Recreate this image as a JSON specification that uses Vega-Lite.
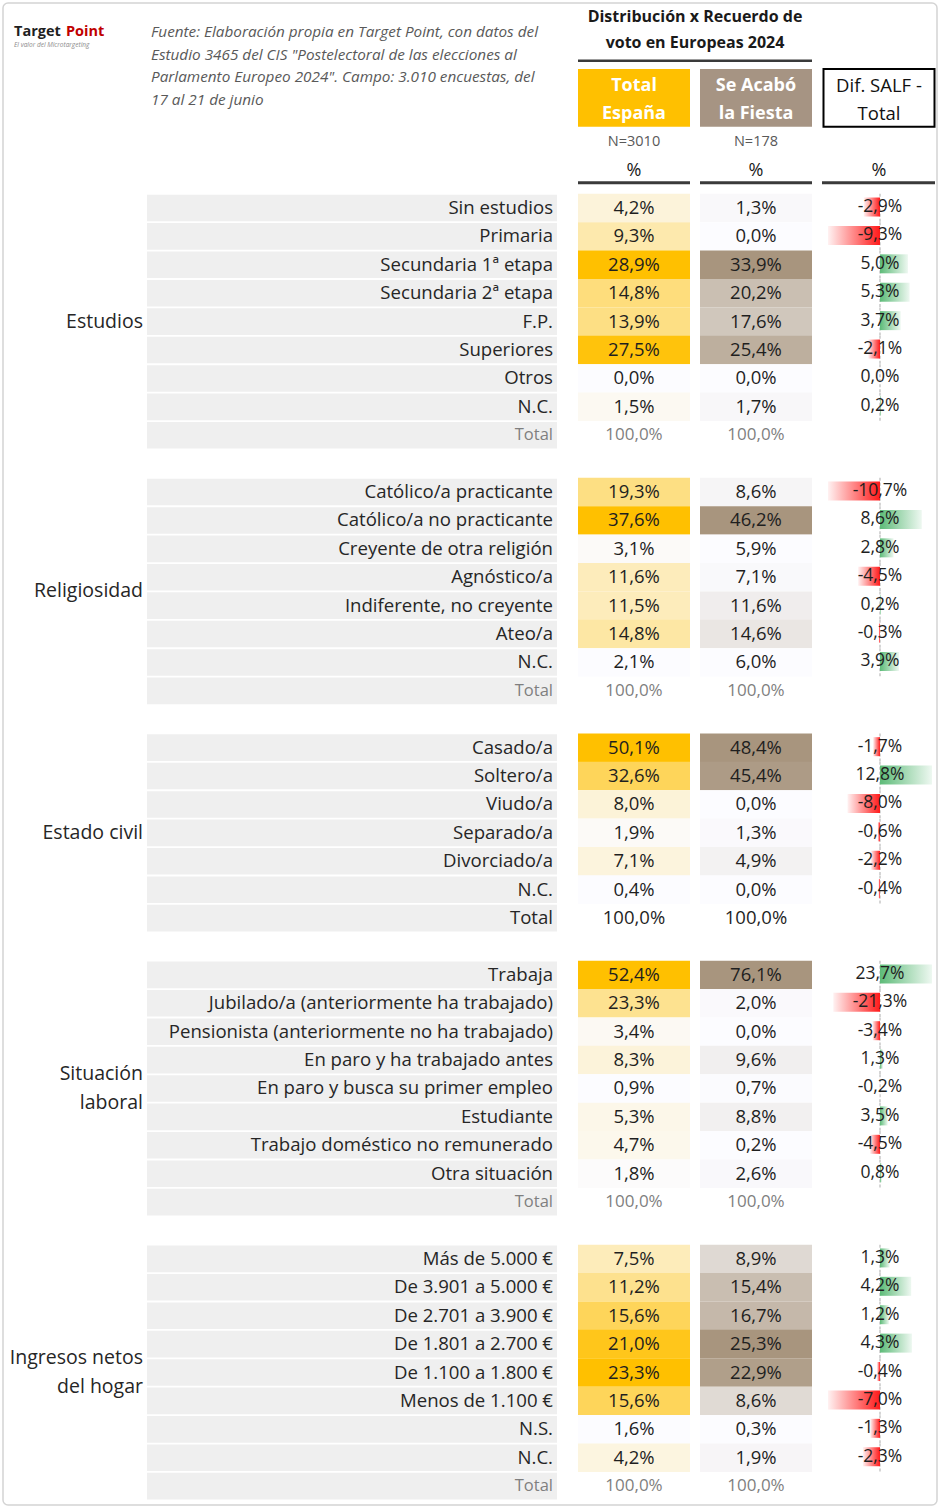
{
  "$schema": "https://vega.github.io/schema/vega-lite/v6.json",
  "width": 940,
  "height": 1508,
  "padding": 0,
  "autosize": {"type": "none"},
  "background": "#FFFFFF",
  "config": {"view": {"stroke": null}, "font": "Open Sans", "text": {"font": "Open Sans"}},
  "data": {"values": [
    {"sec": "Estudios", "row": 0, "label": "Sin estudios", "total": 4.2, "salf": 1.3, "dif": -2.9},
    {"sec": "Estudios", "row": 1, "label": "Primaria", "total": 9.3, "salf": 0.0, "dif": -9.3},
    {"sec": "Estudios", "row": 2, "label": "Secundaria 1ª etapa", "total": 28.9, "salf": 33.9, "dif": 5.0},
    {"sec": "Estudios", "row": 3, "label": "Secundaria 2ª etapa", "total": 14.8, "salf": 20.2, "dif": 5.3},
    {"sec": "Estudios", "row": 4, "label": "F.P.", "total": 13.9, "salf": 17.6, "dif": 3.7},
    {"sec": "Estudios", "row": 5, "label": "Superiores", "total": 27.5, "salf": 25.4, "dif": -2.1},
    {"sec": "Estudios", "row": 6, "label": "Otros", "total": 0.0, "salf": 0.0, "dif": 0.0},
    {"sec": "Estudios", "row": 7, "label": "N.C.", "total": 1.5, "salf": 1.7, "dif": 0.2},
    {"sec": "Estudios", "row": 8, "label": "Total", "total": 100.0, "salf": 100.0},
    {"sec": "Religiosidad", "row": 10, "label": "Católico/a practicante", "total": 19.3, "salf": 8.6, "dif": -10.7},
    {"sec": "Religiosidad", "row": 11, "label": "Católico/a no practicante", "total": 37.6, "salf": 46.2, "dif": 8.6},
    {"sec": "Religiosidad", "row": 12, "label": "Creyente de otra religión", "total": 3.1, "salf": 5.9, "dif": 2.8},
    {"sec": "Religiosidad", "row": 13, "label": "Agnóstico/a", "total": 11.6, "salf": 7.1, "dif": -4.5},
    {"sec": "Religiosidad", "row": 14, "label": "Indiferente, no creyente", "total": 11.5, "salf": 11.6, "dif": 0.2},
    {"sec": "Religiosidad", "row": 15, "label": "Ateo/a", "total": 14.8, "salf": 14.6, "dif": -0.3},
    {"sec": "Religiosidad", "row": 16, "label": "N.C.", "total": 2.1, "salf": 6.0, "dif": 3.9},
    {"sec": "Religiosidad", "row": 17, "label": "Total", "total": 100.0, "salf": 100.0},
    {"sec": "Estado civil", "row": 19, "label": "Casado/a", "total": 50.1, "salf": 48.4, "dif": -1.7},
    {"sec": "Estado civil", "row": 20, "label": "Soltero/a", "total": 32.6, "salf": 45.4, "dif": 12.8},
    {"sec": "Estado civil", "row": 21, "label": "Viudo/a", "total": 8.0, "salf": 0.0, "dif": -8.0},
    {"sec": "Estado civil", "row": 22, "label": "Separado/a", "total": 1.9, "salf": 1.3, "dif": -0.6},
    {"sec": "Estado civil", "row": 23, "label": "Divorciado/a", "total": 7.1, "salf": 4.9, "dif": -2.2},
    {"sec": "Estado civil", "row": 24, "label": "N.C.", "total": 0.4, "salf": 0.0, "dif": -0.4},
    {"sec": "Estado civil", "row": 25, "label": "Total", "total": 100.0, "salf": 100.0},
    {"sec": "Situación laboral", "row": 27, "label": "Trabaja", "total": 52.4, "salf": 76.1, "dif": 23.7},
    {"sec": "Situación laboral", "row": 28, "label": "Jubilado/a (anteriormente ha trabajado)", "total": 23.3, "salf": 2.0, "dif": -21.3},
    {"sec": "Situación laboral", "row": 29, "label": "Pensionista (anteriormente no ha trabajado)", "total": 3.4, "salf": 0.0, "dif": -3.4},
    {"sec": "Situación laboral", "row": 30, "label": "En paro y ha trabajado antes", "total": 8.3, "salf": 9.6, "dif": 1.3},
    {"sec": "Situación laboral", "row": 31, "label": "En paro y busca su primer empleo", "total": 0.9, "salf": 0.7, "dif": -0.2},
    {"sec": "Situación laboral", "row": 32, "label": "Estudiante", "total": 5.3, "salf": 8.8, "dif": 3.5},
    {"sec": "Situación laboral", "row": 33, "label": "Trabajo doméstico no remunerado", "total": 4.7, "salf": 0.2, "dif": -4.5},
    {"sec": "Situación laboral", "row": 34, "label": "Otra situación", "total": 1.8, "salf": 2.6, "dif": 0.8},
    {"sec": "Situación laboral", "row": 35, "label": "Total", "total": 100.0, "salf": 100.0},
    {"sec": "Ingresos netos del hogar", "row": 37, "label": "Más de 5.000 €", "total": 7.5, "salf": 8.9, "dif": 1.3},
    {"sec": "Ingresos netos del hogar", "row": 38, "label": "De 3.901 a 5.000 €", "total": 11.2, "salf": 15.4, "dif": 4.2},
    {"sec": "Ingresos netos del hogar", "row": 39, "label": "De 2.701 a 3.900 €", "total": 15.6, "salf": 16.7, "dif": 1.2},
    {"sec": "Ingresos netos del hogar", "row": 40, "label": "De 1.801 a 2.700 €", "total": 21.0, "salf": 25.3, "dif": 4.3},
    {"sec": "Ingresos netos del hogar", "row": 41, "label": "De 1.100 a 1.800 €", "total": 23.3, "salf": 22.9, "dif": -0.4},
    {"sec": "Ingresos netos del hogar", "row": 42, "label": "Menos de 1.100 €", "total": 15.6, "salf": 8.6, "dif": -7.0},
    {"sec": "Ingresos netos del hogar", "row": 43, "label": "N.S.", "total": 1.6, "salf": 0.3, "dif": -1.3},
    {"sec": "Ingresos netos del hogar", "row": 44, "label": "N.C.", "total": 4.2, "salf": 1.9, "dif": -2.3},
    {"sec": "Ingresos netos del hogar", "row": 45, "label": "Total", "total": 100.0, "salf": 100.0}
  ]},
  "layer": [
    {
      "layer": [
        {
          "data": {"values": [{}]},
          "mark": {"type": "rect", "fillOpacity": 0, "stroke": "#D4D4D4", "strokeWidth": 1.5, "cornerRadius": 5},
          "encoding": {
            "x": {"datum": 3, "type": "quantitative", "scale": {"domain": [0, 940], "nice": false, "zero": false}, "axis": null},
            "x2": {"datum": 937},
            "y": {"datum": -7.218, "type": "quantitative", "scale": {"domain": [-7.324, 45.77], "reverse": true, "nice": false, "zero": false}, "axis": null},
            "y2": {"datum": 45.664}
          }
        },
        {
          "data": {"values": [{}]},
          "mark": {"type": "text", "text": "Target", "align": "left", "baseline": "middle", "fontSize": 14.5, "fontWeight": "bold", "color": "#1F1F1F"},
          "encoding": {"x": {"datum": 14, "type": "quantitative"}, "y": {"datum": -6.197, "type": "quantitative"}}
        },
        {
          "data": {"values": [{}]},
          "mark": {"type": "text", "text": "Point", "align": "left", "baseline": "middle", "fontSize": 14.5, "fontWeight": "bold", "color": "#C00000"},
          "encoding": {"x": {"datum": 66, "type": "quantitative"}, "y": {"datum": -6.197, "type": "quantitative"}}
        },
        {
          "data": {"values": [{}]},
          "mark": {"type": "text", "text": "El valor del Microtargeting", "align": "left", "baseline": "middle", "fontSize": 6.5, "fontStyle": "italic", "color": "#8C8C8C"},
          "encoding": {"x": {"datum": 14, "type": "quantitative"}, "y": {"datum": -5.74, "type": "quantitative"}}
        },
        {
          "data": {"values": [{}]},
          "mark": {"type": "text", "text": ["Fuente: Elaboración propia en Target Point, con datos del", "Estudio 3465 del CIS \"Postelectoral de las elecciones al", "Parlamento Europeo 2024\". Campo: 3.010 encuestas, del", "17 al 21 de junio"], "align": "left", "baseline": "middle", "fontSize": 15.3, "lineHeight": 22.7, "fontStyle": "italic", "color": "#595959"},
          "encoding": {"x": {"datum": 151, "type": "quantitative"}, "y": {"datum": -6.197, "type": "quantitative"}}
        },
        {
          "data": {"values": [{}]},
          "mark": {"type": "text", "text": ["Distribución x Recuerdo de", "voto en Europeas 2024"], "align": "center", "baseline": "middle", "fontSize": 16, "lineHeight": 26, "fontWeight": "bold", "color": "#1A1A1A"},
          "encoding": {"x": {"datum": 695, "type": "quantitative"}, "y": {"datum": -6.715, "type": "quantitative"}}
        },
        {
          "data": {"values": [{}]},
          "mark": {"type": "rule", "stroke": "#3A3A3A", "strokeWidth": 2.5},
          "encoding": {"x": {"datum": 578, "type": "quantitative"}, "x2": {"datum": 812}, "y": {"datum": -5.187, "type": "quantitative"}}
        },
        {
          "data": {"values": [{}]},
          "mark": {"type": "rect", "fill": "#FFC000"},
          "encoding": {"x": {"datum": 578, "type": "quantitative"}, "x2": {"datum": 690}, "y": {"datum": -4.895, "type": "quantitative"}, "y2": {"datum": -2.863}}
        },
        {
          "data": {"values": [{}]},
          "mark": {"type": "rect", "fill": "#A69483"},
          "encoding": {"x": {"datum": 700, "type": "quantitative"}, "x2": {"datum": 812}, "y": {"datum": -4.895, "type": "quantitative"}, "y2": {"datum": -2.863}}
        },
        {
          "data": {"values": [{}]},
          "mark": {"type": "rect", "fill": "#FFFFFF", "stroke": "#000000", "strokeWidth": 2},
          "encoding": {"x": {"datum": 823.5, "type": "quantitative"}, "x2": {"datum": 934.5}, "y": {"datum": -4.895, "type": "quantitative"}, "y2": {"datum": -2.863}}
        },
        {
          "data": {"values": [{}]},
          "mark": {"type": "text", "text": ["Total", "España"], "align": "center", "baseline": "middle", "fontSize": 18, "lineHeight": 27.5, "fontWeight": "bold", "color": "#FFFFFF"},
          "encoding": {"x": {"datum": 634, "type": "quantitative"}, "y": {"datum": -4.296, "type": "quantitative"}}
        },
        {
          "data": {"values": [{}]},
          "mark": {"type": "text", "text": ["Se Acabó", "la Fiesta"], "align": "center", "baseline": "middle", "fontSize": 18, "lineHeight": 27.5, "fontWeight": "bold", "color": "#FFFFFF"},
          "encoding": {"x": {"datum": 756, "type": "quantitative"}, "y": {"datum": -4.296, "type": "quantitative"}}
        },
        {
          "data": {"values": [{}]},
          "mark": {"type": "text", "text": ["Dif. SALF -", "Total"], "align": "center", "baseline": "middle", "fontSize": 18.5, "lineHeight": 27.5, "color": "#111111"},
          "encoding": {"x": {"datum": 879, "type": "quantitative"}, "y": {"datum": -4.296, "type": "quantitative"}}
        },
        {
          "data": {"values": [{}]},
          "mark": {"type": "text", "text": "N=3010", "align": "center", "baseline": "middle", "fontSize": 14.5, "color": "#595959"},
          "encoding": {"x": {"datum": 634, "type": "quantitative"}, "y": {"datum": -2.335, "type": "quantitative"}}
        },
        {
          "data": {"values": [{}]},
          "mark": {"type": "text", "text": "N=178", "align": "center", "baseline": "middle", "fontSize": 14.5, "color": "#595959"},
          "encoding": {"x": {"datum": 756, "type": "quantitative"}, "y": {"datum": -2.335, "type": "quantitative"}}
        },
        {
          "data": {"values": [{}]},
          "mark": {"type": "text", "text": "%", "align": "center", "baseline": "middle", "fontSize": 18, "color": "#1A1A1A"},
          "encoding": {"x": {"datum": 634, "type": "quantitative"}, "y": {"datum": -1.304, "type": "quantitative"}}
        },
        {
          "data": {"values": [{}]},
          "mark": {"type": "text", "text": "%", "align": "center", "baseline": "middle", "fontSize": 18, "color": "#1A1A1A"},
          "encoding": {"x": {"datum": 756, "type": "quantitative"}, "y": {"datum": -1.304, "type": "quantitative"}}
        },
        {
          "data": {"values": [{}]},
          "mark": {"type": "text", "text": "%", "align": "center", "baseline": "middle", "fontSize": 18, "color": "#1A1A1A"},
          "encoding": {"x": {"datum": 879, "type": "quantitative"}, "y": {"datum": -1.304, "type": "quantitative"}}
        },
        {
          "data": {"values": [{}]},
          "mark": {"type": "rule", "stroke": "#3A3A3A", "strokeWidth": 3},
          "encoding": {"x": {"datum": 578, "type": "quantitative"}, "x2": {"datum": 690}, "y": {"datum": -0.892, "type": "quantitative"}}
        },
        {
          "data": {"values": [{}]},
          "mark": {"type": "rule", "stroke": "#3A3A3A", "strokeWidth": 3},
          "encoding": {"x": {"datum": 700, "type": "quantitative"}, "x2": {"datum": 812}, "y": {"datum": -0.892, "type": "quantitative"}}
        },
        {
          "data": {"values": [{}]},
          "mark": {"type": "rule", "stroke": "#3A3A3A", "strokeWidth": 3},
          "encoding": {"x": {"datum": 822, "type": "quantitative"}, "x2": {"datum": 935}, "y": {"datum": -0.892, "type": "quantitative"}}
        },
        {
          "mark": {"type": "rect", "color": "#EFEFEF", "yOffset": -13.3, "y2Offset": 13.3},
          "encoding": {"x": {"datum": 147, "type": "quantitative"}, "x2": {"datum": 557}, "y": {"field": "row", "type": "quantitative"}, "y2": {"field": "row"}}
        },
        {
          "transform": [
            {"filter": "datum.label !== 'Total'"},
            {"joinaggregate": [{"op": "min", "field": "total", "as": "mn"}, {"op": "max", "field": "total", "as": "mx"}], "groupby": ["sec"]},
            {"calculate": "(datum.total - datum.mn) / (datum.mx - datum.mn)", "as": "t"}
          ],
          "mark": {"type": "rect", "yOffset": -14.25, "y2Offset": 14.25},
          "encoding": {
            "x": {"datum": 578, "type": "quantitative"}, "x2": {"datum": 690},
            "y": {"field": "row", "type": "quantitative"}, "y2": {"field": "row"},
            "color": {"field": "t", "type": "quantitative", "scale": {"domain": [0, 1], "range": ["#FCFCFF", "#FFC000"], "interpolate": "rgb"}, "legend": null}
          }
        },
        {
          "transform": [
            {"filter": "datum.label !== 'Total'"},
            {"joinaggregate": [{"op": "min", "field": "salf", "as": "mn"}, {"op": "max", "field": "salf", "as": "mx"}], "groupby": ["sec"]},
            {"calculate": "(datum.salf - datum.mn) / (datum.mx - datum.mn)", "as": "t"}
          ],
          "mark": {"type": "rect", "yOffset": -14.25, "y2Offset": 14.25},
          "encoding": {
            "x": {"datum": 700, "type": "quantitative"}, "x2": {"datum": 812},
            "y": {"field": "row", "type": "quantitative"}, "y2": {"field": "row"},
            "fill": {"field": "t", "type": "quantitative", "scale": {"domain": [0, 1], "range": ["#FCFCFF", "#A8957E"], "interpolate": "rgb"}, "legend": null}
          }
        },
        {
          "mark": {"type": "text", "align": "right", "baseline": "middle"},
          "encoding": {
            "x": {"datum": 553, "type": "quantitative"},
            "y": {"field": "row", "type": "quantitative"},
            "text": {"field": "label"},
            "color": {"condition": {"test": "datum.label === 'Total' && datum.sec !== 'Estado civil'", "value": "#7F7F7F"}, "value": "#262626"},
            "size": {"condition": {"test": "datum.label === 'Total' && datum.sec !== 'Estado civil'", "value": 16.5}, "value": 18.6}
          }
        },
        {
          "transform": [
            {"calculate": "replace(replace(format(datum.total, '.1f'), '.', ','), '\u2212', '-') + '%'", "as": "txt"}
          ],
          "mark": {"type": "text", "align": "center", "baseline": "middle"},
          "encoding": {
            "x": {"datum": 634, "type": "quantitative"},
            "y": {"field": "row", "type": "quantitative"},
            "text": {"field": "txt"},
            "color": {"condition": {"test": "datum.label === 'Total' && datum.sec !== 'Estado civil'", "value": "#7F7F7F"}, "value": "#1F1F1F"},
            "size": {"condition": {"test": "datum.label === 'Total' && datum.sec !== 'Estado civil'", "value": 17}, "value": 18.5}
          }
        },
        {
          "transform": [
            {"calculate": "replace(replace(format(datum.salf, '.1f'), '.', ','), '\u2212', '-') + '%'", "as": "txt"}
          ],
          "mark": {"type": "text", "align": "center", "baseline": "middle"},
          "encoding": {
            "x": {"datum": 756, "type": "quantitative"},
            "y": {"field": "row", "type": "quantitative"},
            "text": {"field": "txt"},
            "color": {"condition": {"test": "datum.label === 'Total' && datum.sec !== 'Estado civil'", "value": "#7F7F7F"}, "value": "#1F1F1F"},
            "size": {"condition": {"test": "datum.label === 'Total' && datum.sec !== 'Estado civil'", "value": 17}, "value": 18.5}
          }
        },
        {
          "transform": [
            {"aggregate": [{"op": "mean", "field": "row", "as": "mid"}], "groupby": ["sec"]},
            {"filter": "datum.sec !== 'Situación laboral' && datum.sec !== 'Ingresos netos del hogar'"}
          ],
          "mark": {"type": "text", "align": "right", "baseline": "middle", "fontSize": 19.5, "color": "#262626"},
          "encoding": {
            "x": {"datum": 143, "type": "quantitative"},
            "y": {"field": "mid", "type": "quantitative"},
            "text": {"field": "sec"}
          }
        },
        {
          "transform": [
            {"aggregate": [{"op": "mean", "field": "row", "as": "mid"}], "groupby": ["sec"]},
            {"filter": "datum.sec === 'Situación laboral' || datum.sec === 'Ingresos netos del hogar'"},
            {"calculate": "replace(replace(datum.sec, 'Situación laboral', 'Situación|laboral'), 'Ingresos netos del hogar', 'Ingresos netos|del hogar')", "as": "disp"}
          ],
          "mark": {"type": "text", "align": "right", "baseline": "middle", "fontSize": 19.5, "lineHeight": 28.5, "lineBreak": "|", "dy": -14.25, "color": "#262626"},
          "encoding": {
            "x": {"datum": 143, "type": "quantitative"},
            "y": {"field": "mid", "type": "quantitative"},
            "text": {"field": "disp"}
          }
        }
      ]
    },
    {
      "transform": [
        {"filter": "isValid(datum.dif)"},
        {"calculate": "abs(datum.dif)", "as": "absdif"},
        {"joinaggregate": [{"op": "max", "field": "absdif", "as": "maxabs"}], "groupby": ["sec"]},
        {"calculate": "datum.dif / datum.maxabs", "as": "rel"},
        {"calculate": "replace(replace(format(datum.dif, '.1f'), '.', ','), '\u2212', '-') + '%'", "as": "txt"}
      ],
      "layer": [
        {
          "mark": {"type": "rule", "stroke": "#C8C8C8", "strokeWidth": 1.5, "strokeDash": [3, 2], "yOffset": -14.2, "y2Offset": 14.2},
          "encoding": {
            "x": {"datum": 0, "type": "quantitative", "scale": {"domain": [-16.923, 1.1538], "nice": false, "zero": false}, "axis": null},
            "y": {"field": "row", "type": "quantitative"}, "y2": {"field": "row"}
          }
        },
        {
          "transform": [{"filter": "datum.rel < 0"}],
          "mark": {"type": "rect", "yOffset": -10.5, "y2Offset": 8.5, "color": {"gradient": "linear", "x1": 0, "x2": 1, "y1": 0, "y2": 0, "stops": [{"offset": 0, "color": "#FFF2F2"}, {"offset": 1, "color": "#FF1A1A"}]}},
          "encoding": {
            "x": {"field": "rel", "type": "quantitative"}, "x2": {"datum": 0},
            "y": {"field": "row", "type": "quantitative"}, "y2": {"field": "row"}
          }
        },
        {
          "transform": [{"filter": "datum.rel > 0"}],
          "mark": {"type": "rect", "yOffset": -10.5, "y2Offset": 8.5, "color": {"gradient": "linear", "x1": 0, "x2": 1, "y1": 0, "y2": 0, "stops": [{"offset": 0, "color": "#5DBB78"}, {"offset": 1, "color": "#EEF8F1"}]}},
          "encoding": {
            "x": {"field": "rel", "type": "quantitative"}, "x2": {"datum": 0},
            "y": {"field": "row", "type": "quantitative"}, "y2": {"field": "row"}
          }
        },
        {
          "mark": {"type": "text", "align": "center", "baseline": "middle", "fontSize": 17.5, "color": "#1F1F1F", "dy": -1},
          "encoding": {
            "x": {"datum": 0, "type": "quantitative"},
            "dx": {"value": 1},
            "y": {"field": "row", "type": "quantitative"},
            "text": {"field": "txt"}
          }
        }
      ]
    }
  ],
  "resolve": {"scale": {"x": "independent"}}
}
